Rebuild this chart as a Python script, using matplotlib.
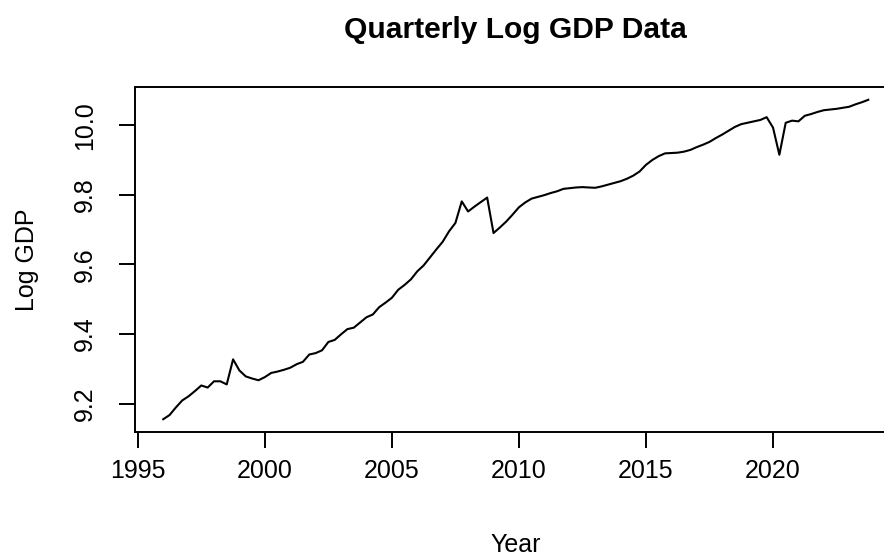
import numpy as np
import matplotlib
matplotlib.use("Agg")
import matplotlib.pyplot as plt

plt.rcParams['font.family'] = ['Liberation Sans', 'DejaVu Sans']

# quarterly series, 1996 Q1 .. 2023 Q4
start_year = 1996
log_gdp = [
    9.155, 9.167, 9.189, 9.209, 9.221, 9.236, 9.252, 9.246,
    9.264, 9.264, 9.255, 9.327, 9.295, 9.278, 9.272, 9.267,
    9.276, 9.288, 9.292, 9.297, 9.303, 9.313, 9.320, 9.341,
    9.345, 9.353, 9.377, 9.383, 9.399, 9.414, 9.418, 9.433,
    9.448, 9.456, 9.477, 9.490, 9.504, 9.527, 9.541, 9.557,
    9.580, 9.597, 9.620, 9.643, 9.665, 9.695, 9.719, 9.781,
    9.752, 9.766, 9.779, 9.792, 9.690, 9.706, 9.723, 9.743,
    9.764, 9.778, 9.789, 9.794, 9.799, 9.805, 9.810, 9.817,
    9.819, 9.821, 9.822, 9.821, 9.820, 9.824, 9.829, 9.834,
    9.839, 9.846, 9.855, 9.867, 9.886, 9.900, 9.911, 9.919,
    9.920, 9.921, 9.924, 9.929, 9.937, 9.944, 9.952, 9.963,
    9.973, 9.984, 9.995, 10.003, 10.007, 10.011, 10.015, 10.023,
    9.993, 9.915, 10.007, 10.013, 10.011, 10.027, 10.032, 10.038,
    10.043, 10.045, 10.047, 10.050, 10.053, 10.060, 10.066, 10.073,
]
x_ticks = [1995, 2000, 2005, 2010, 2015, 2020]
y_ticks = [9.2, 9.4, 9.6, 9.8, 10.0]

y = np.array(log_gdp)
t = start_year + np.arange(len(y)) / 4.0

W, H = 884, 560
fig = plt.figure(figsize=(W / 100, H / 100), dpi=100)
# plot region (pixels): left 135, bottom 432, top 87, right runs off the canvas
left, right, top, bottom = 135, 896.5, 87, 432
ax = fig.add_axes([left / W, 1 - bottom / H, (right - left) / W, (bottom - top) / H])

ax.plot(t, y, color='black', lw=1.5)

# R style 4% padding on each side
dx = (t.max() - t.min()) * 0.04
dy = (y.max() - y.min()) * 0.04
ax.set_xlim(t.min() - dx, t.max() + dx)
ax.set_ylim(y.min() - dy, y.max() + dy)

ax.set_xticks(x_ticks)
ax.set_xticklabels([str(v) for v in x_ticks])
ax.set_yticks(y_ticks)
ax.set_yticklabels(['%.1f' % v for v in y_ticks])
ax.tick_params(axis='both', direction='out', length=11.5, width=1.4,
               labelsize=18, color='black')
ax.tick_params(axis='x', pad=8)
ax.tick_params(axis='y', pad=16, labelrotation=90)
for lab in ax.get_yticklabels():
    lab.set_va('center')
for sp in ax.spines.values():
    sp.set_linewidth(1.4)

cx = (left + right) / 2 / W
fig.text(cx, 1 - 30 / H, 'Quarterly Log GDP Data', ha='center', va='center',
         fontsize=21.6, fontweight='bold')
fig.text(cx, 1 - 545 / H, 'Year', ha='center', va='center', fontsize=18)
fig.text(27 / W, 1 - (top + bottom) / 2 / H, 'Log GDP', ha='center', va='center',
         rotation=90, fontsize=18)

fig.savefig('out.png', dpi=100)
